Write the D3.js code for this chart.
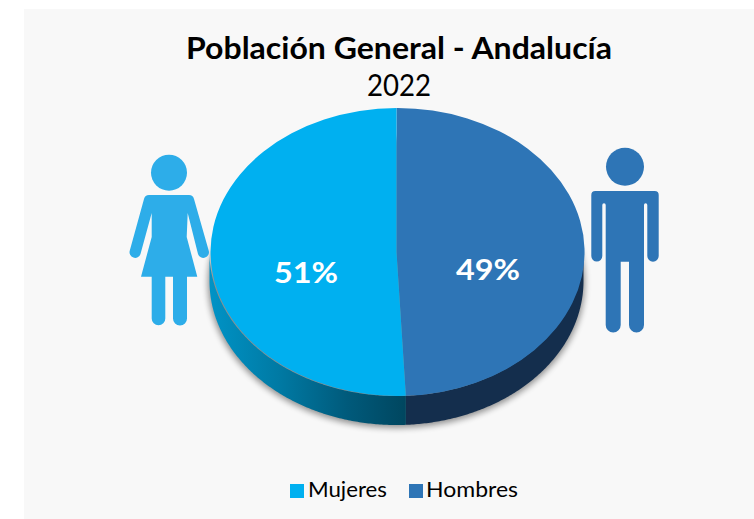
<!DOCTYPE html>
<html><head><meta charset="utf-8">
<script src="https://cdn.jsdelivr.net/npm/d3@7"></script>
<style>html,body{margin:0;padding:0;background:#fff}svg{display:block}text{font-family:Lato,"Open Sans",sans-serif}</style>
</head><body><svg id="c" width="754" height="519"></svg>
<script>
const categories = ["Hombres", "Mujeres"];
const values = [49.2, 50.8];
const legendOrder = ["Mujeres", "Hombres"];
const colors = ["#2e75b6", "#00b0f0"];
const titleText = "Población General - Andalucía";
const subtitleText = "2022";

const svg = d3.select("#c");
const defs = svg.append("defs");
svg.append("rect").attr("x",24).attr("y",9).attr("width",730).attr("height",510).attr("fill","#f8f8f8");

const color = d3.scaleOrdinal(categories, colors);
const cx = 396.5, cy = 252, rx = 187, ry = 144, depth = 29;
const pie = d3.pie().sort(null).value(d => d)(values);
const arc = d3.arc().innerRadius(0).outerRadius(1);
const pt = a => [cx + rx*Math.sin(a), cy - ry*Math.cos(a)];

// shadow
defs.append("filter").attr("id","blur").attr("x","-10%").attr("y","-10%").attr("width","120%").attr("height","120%")
  .append("feGaussianBlur").attr("stdDeviation",3);
svg.append("ellipse").attr("cx",cx).attr("cy",cy+depth+2).attr("rx",rx+1.5).attr("ry",ry+1)
  .attr("fill","#000").attr("opacity",0.42).attr("filter","url(#blur)");

// side wall
const grad = defs.append("linearGradient").attr("id","wall").attr("gradientUnits","userSpaceOnUse")
  .attr("x1",cx-rx).attr("x2",cx+10).attr("y1",0).attr("y2",0);
[[0,"#0093c6"],[0.35,"#007aa4"],[0.7,"#005a7b"],[1,"#00465f"]].forEach(([o,c]) =>
  grad.append("stop").attr("offset",o).attr("stop-color",c));
const wallFill = {Hombres:"#142e4d", Mujeres:"url(#wall)"};
const line = d3.line();
pie.forEach((s,i) => {
  const a0 = Math.max(s.startAngle, Math.PI/2), a1 = Math.min(s.endAngle, 3*Math.PI/2);
  const as = d3.range(a0, a1, 0.01).concat([a1]);
  const upper = as.map(pt);
  const lower = as.slice().reverse().map(a => { const p = pt(a); return [p[0], p[1]+depth]; });
  svg.append("path").attr("d", line(upper.concat(lower))+"Z").attr("fill", wallFill[categories[i]]);
});

// top face
svg.append("g").attr("transform",`translate(${cx},${cy}) scale(${rx},${ry})`)
  .selectAll("path").data(pie).join("path")
  .attr("d",arc).attr("fill",(d,i)=>color(categories[i]));

// icons
const woman = "M144 199Q145 195 149 195L189 195Q193 195 194 199L208.7 250.5A5.6 5.6 0 0 1 198 254L187.7 213L186.7 237L197.3 276.7L187 276.7L187 318.5A7 7 0 0 1 173 318.5L173 276.7L165.3 276.7L165.3 318.5A6.8 6.8 0 0 1 151.7 318.5L151.7 276.7L141 276.7L151.7 237L151.7 213L140.5 254A5.6 5.6 0 0 1 129.8 250.5Z";
svg.append("circle").attr("cx",169).attr("cy",172.7).attr("r",18).attr("fill","#2dade9");
svg.append("path").attr("d",woman).attr("fill","#2dade9");
const man = "M595.3 191L654.7 191Q658.7 191 658.7 195L658.7 256A5.5 5.5 0 0 1 647.3 256L647.3 205Q647.3 203.3 645.6 203.3Q644 203.3 644 205L644 325A7.5 7.5 0 0 1 629 325L629 261.7L620.7 261.7L620.7 325A7.5 7.5 0 0 1 605.7 325L605.7 205Q605.7 203.3 604 203.3Q602.3 203.3 602.3 205L602.3 256A5.5 5.5 0 0 1 591.3 256L591.3 195Q591.3 191 595.3 191Z";
svg.append("circle").attr("cx",625).attr("cy",166.7).attr("r",19).attr("fill","#2e75b6");
svg.append("path").attr("d",man).attr("fill","#2e75b6");

// text
function t(x,y,s,size,w,fill,len){
  const e = svg.append("text").attr("x",x).attr("y",y).text(s).attr("font-size",size).attr("font-weight",w).attr("fill",fill).attr("text-anchor","middle");
  if(len) e.attr("textLength",len).attr("lengthAdjust","spacingAndGlyphs");
  return e;
}
t(399,59,titleText,30,700,"#000",426);
t(399,96,subtitleText,31,400,"#000",64);
const labelPos = {Mujeres:[306,283], Hombres:[488,280]};
categories.forEach((c,i)=>t(labelPos[c][0],labelPos[c][1],Math.round(values[i])+"%",29,700,"#fff",64));

// legend
const legendX = {Mujeres:[290,347.5,79], Hombres:[409,472,92]};
legendOrder.forEach(c=>{
  svg.append("rect").attr("x",legendX[c][0]).attr("y",484).attr("width",14).attr("height",14).attr("fill",color(c));
  t(legendX[c][1],497,c,22,400,"#000",legendX[c][2]);
});
</script></body></html>
